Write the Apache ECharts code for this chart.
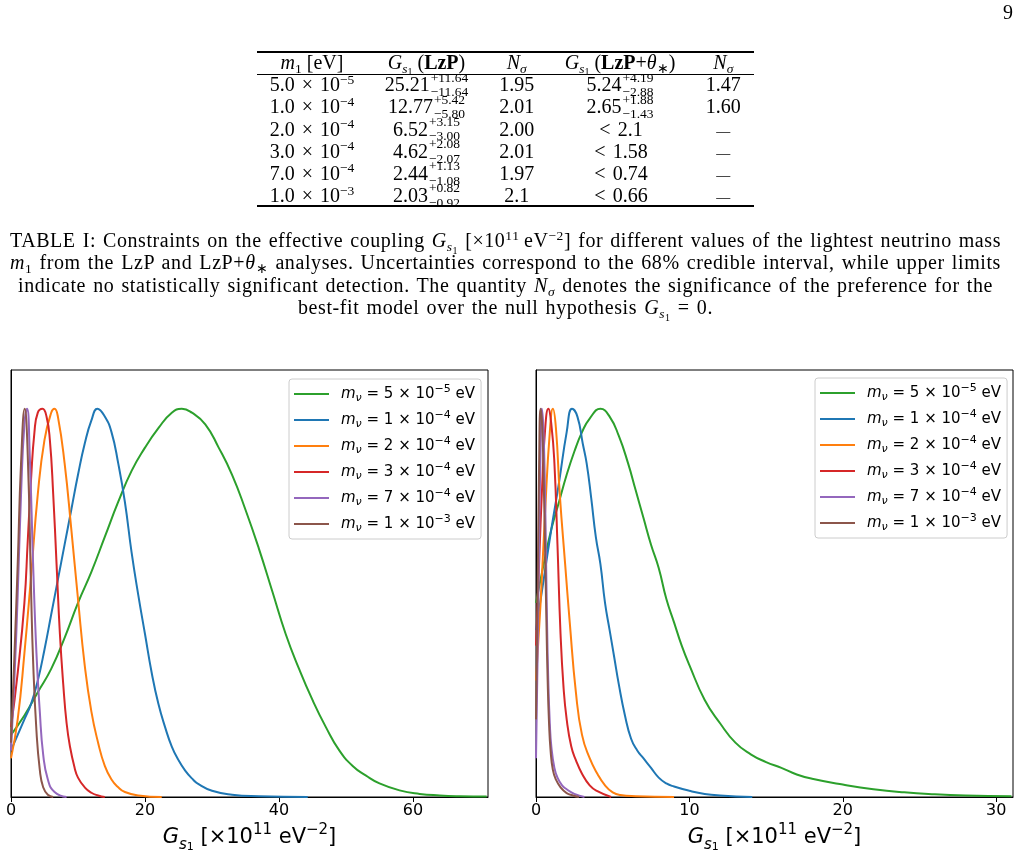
<!DOCTYPE html>
<html>
<head>
<meta charset="utf-8">
<title>Posterior of G_s1</title>
<script src="https://cdn.jsdelivr.net/npm/echarts@6.0.0/dist/echarts.min.js"></script>
<style>
html,body{margin:0;padding:0;background:#fff;}
#page{position:relative;width:1021px;height:858px;overflow:hidden;background:#fff;}
#chart{position:absolute;left:0;top:0;width:1021px;height:858px;z-index:1;}
.tx{position:absolute;font-family:"Liberation Serif","Times New Roman",serif;color:#000;white-space:nowrap;z-index:2;}
.cell{height:24px;line-height:24px;font-size:20px;transform:translateX(-50%);}
.rule{position:absolute;left:257px;width:497px;background:#000;z-index:2;}
.stk{display:inline-block;vertical-align:middle;font-size:13.5px;line-height:14.6px;margin:-10px 0 -10px 1px;position:relative;top:-1.6px;text-align:left;}
.stk span{display:block;}
.sp{font-size:13.5px;position:relative;top:-0.55em;}
.sb{font-size:13.5px;position:relative;top:0.3em;}
.sb2{font-size:10px;position:relative;top:0.25em;}
.cap{left:0;width:1011px;text-align:center;height:24px;line-height:24px;font-size:20px;}
.dash{font-size:14px;}
.op{margin:0 2px;}
</style>
</head>
<body>
<div id="page">
  <div id="chart"></div>
</div>
<script>
// ---------------- data: table ----------------
const TABLE_M1_MANT = ['5.0', '1.0', '2.0', '3.0', '7.0', '1.0'];
const TABLE_M1_EXP  = ['−5', '−4', '−4', '−4', '−4', '−3'];
const G_LZP         = ['25.21', '12.77', '6.52', '4.62', '2.44', '2.03'];
const G_LZP_UP      = ['+11.64', '+5.42', '+3.15', '+2.08', '+1.13', '+0.82'];
const G_LZP_DN      = ['−11.64', '−5.80', '−3.00', '−2.07', '−1.08', '−0.92'];
const NSIG_LZP      = ['1.95', '2.01', '2.00', '2.01', '1.97', '2.1'];
const G_THETA       = ['5.24', '2.65', '< 2.1', '< 1.58', '< 0.74', '< 0.66'];
const G_THETA_UP    = ['+4.19', '+1.88', null, null, null, null];
const G_THETA_DN    = ['−2.88', '−1.43', null, null, null, null];
const NSIG_THETA    = ['1.47', '1.60', '—', '—', '—', '—'];

// ---------------- data: legend / axes ----------------
const MASS_COEF = ['5', '1', '2', '3', '7', '1'];
const MASS_EXP  = ['−5', '−4', '−4', '−4', '−4', '−3'];
const X_TICKS_LZP = [0, 20, 40, 60];
const X_MAX_LZP = 71.2;
const X_TICKS_THETA = [0, 10, 20, 30];
const X_MAX_THETA = 31.1;
const Y_MAX = 1.1;

// ---------------- data: LzP posteriors (normalised to peak = 1) ----------------
const LZP_M5E5 = [[0,0.16],[2,0.21],[4,0.27],[6,0.33],[8,0.41],[10,0.5],[12,0.58],[14,0.67],[16,0.76],[18,0.84],[20,0.9],[22,0.95],[24,0.99],[25.5,1.0],[27,0.99],[29,0.96],[31,0.9],[33,0.83],[35,0.74],[37,0.64],[39,0.53],[41,0.42],[43,0.33],[45,0.25],[47,0.18],[49,0.12],[51,0.08],[53,0.055],[55,0.035],[58,0.017],[61,0.008],[64,0.004],[67,0.002],[71,0.001]];
const LZP_M1E4 = [[0,0.12],[1,0.16],[2,0.2],[3,0.24],[4,0.3],[5,0.38],[6,0.47],[7,0.56],[8,0.65],[9,0.74],[10,0.83],[11,0.91],[12,0.97],[12.9,1.0],[14,0.98],[15,0.94],[16,0.86],[17,0.76],[18,0.63],[19,0.52],[20,0.42],[21,0.32],[22,0.24],[23,0.18],[24,0.13],[25,0.095],[26,0.068],[27,0.048],[28,0.033],[30,0.016],[33,0.006],[37,0.002],[44.3,0]];
const LZP_M2E4 = [[0,0.1],[1,0.2],[2,0.37],[3,0.57],[4,0.78],[5,0.92],[6,0.99],[6.5,1.0],[7,0.98],[8,0.86],[9,0.69],[10,0.51],[11,0.34],[12,0.22],[13,0.14],[14,0.08],[15,0.045],[16,0.025],[17,0.013],[19,0.004],[22.5,0]];
const LZP_M3E4 = [[0,0.18],[1,0.32],[2,0.5],[2.5,0.66],[3,0.82],[3.5,0.94],[4,0.99],[4.7,1.0],[5.3,0.98],[5.8,0.92],[6.3,0.78],[6.8,0.6],[7.3,0.42],[7.8,0.29],[8.3,0.19],[8.8,0.13],[9.5,0.075],[10,0.05],[11,0.025],[12,0.011],[13,0.004],[14,0]];
const LZP_M7E4 = [[0,0.12],[0.5,0.3],[1,0.52],[1.5,0.78],[2,0.96],[2.4,1.0],[2.8,0.88],[3.3,0.6],[3.8,0.37],[4.3,0.22],[4.8,0.11],[5.5,0.045],[6.5,0.013],[8.3,0]];
const LZP_M1E3 = [[0,0.14],[0.5,0.36],[1,0.6],[1.5,0.86],[2.05,1.0],[2.5,0.88],[3,0.53],[3.3,0.35],[3.8,0.17],[4.3,0.07],[4.8,0.025],[5.5,0.006],[6.3,0]];

// ---------------- data: LzP+theta posteriors ----------------
const THETA_M5E5 = [[0,0.5],[0.5,0.6],[1,0.69],[1.5,0.76],[2,0.83],[2.5,0.89],[3,0.94],[3.5,0.975],[4.2,1.0],[4.8,0.98],[5.4,0.93],[6,0.86],[6.5,0.79],[7,0.72],[7.5,0.65],[8,0.59],[8.5,0.51],[9,0.45],[9.5,0.39],[10,0.34],[11,0.25],[12,0.19],[13,0.14],[14,0.11],[15,0.09],[16,0.075],[17,0.058],[18,0.047],[20,0.032],[22,0.02],[24,0.012],[26,0.007],[28,0.004],[31,0.002]];
const THETA_M1E4 = [[0,0.43],[0.5,0.56],[1,0.69],[1.5,0.81],[2,0.94],[2.35,1.0],[2.7,0.98],[3.05,0.91],[3.3,0.86],[3.6,0.77],[3.9,0.67],[4.2,0.6],[4.5,0.5],[4.8,0.43],[5.1,0.36],[5.4,0.29],[5.8,0.21],[6.2,0.15],[6.6,0.12],[7,0.1],[7.5,0.075],[8,0.05],[8.5,0.035],[9,0.027],[10,0.016],[11,0.008],[12,0.004],[14.1,0]];
const THETA_M2E4 = [[0,0.3],[0.3,0.5],[0.6,0.74],[0.9,0.94],[1.1,1.0],[1.3,0.95],[1.55,0.78],[1.9,0.6],[2.2,0.45],[2.6,0.27],[3,0.16],[3.5,0.1],[4,0.06],[4.5,0.03],[5,0.012],[5.5,0.005],[6.5,0.002],[9,0]];
const THETA_M3E4 = [[0,0.39],[0.2,0.6],[0.4,0.8],[0.6,0.95],[0.8,1.0],[1.0,0.96],[1.2,0.86],[1.4,0.65],[1.6,0.42],[1.8,0.28],[2.0,0.2],[2.3,0.13],[2.6,0.095],[3,0.06],[3.5,0.03],[4,0.015],[4.9,0]];
const THETA_M7E4 = [[0,0.1],[0.1,0.35],[0.2,0.65],[0.3,0.9],[0.38,1.0],[0.48,0.95],[0.58,0.8],[0.66,0.6],[0.72,0.45],[0.8,0.3],[0.9,0.19],[1.0,0.13],[1.2,0.075],[1.4,0.05],[1.7,0.03],[2,0.02],[2.5,0.008],[3.16,0]];
const THETA_M1E3 = [[0,0.2],[0.1,0.5],[0.2,0.85],[0.3,1.0],[0.4,0.96],[0.5,0.82],[0.6,0.62],[0.68,0.45],[0.76,0.3],[0.85,0.19],[0.95,0.12],[1.1,0.07],[1.3,0.045],[1.6,0.025],[2,0.01],[2.4,0.004],[2.8,0]];

// ---------------- HTML text: page number, table, caption ----------------
const page = document.getElementById('page');
function addDiv(cls, style, html) {
  const d = document.createElement('div');
  d.className = cls;
  d.setAttribute('style', style);
  d.innerHTML = html;
  page.appendChild(d);
  return d;
}
addDiv('tx', 'left:1003px;top:0px;height:24px;line-height:24px;font-size:20px;', '9');

// rules (booktabs)
addDiv('rule', 'top:51px;height:2px;', '');
addDiv('rule', 'top:73.5px;height:1px;', '');
addDiv('rule', 'top:205px;height:2px;', '');

const COL_X = [312, 426.5, 516.7, 620, 723.3];
const GS1 = '<i>G</i><span class="sb"><i>s</i><span class="sb2">1</span></span>';
const NSIG = '<i>N</i><span class="sb"><i>σ</i></span>';
const HEAD = [
  '<i>m</i><span class="sb">1</span> [eV]',
  GS1 + ' (<b>LzP</b>)',
  NSIG,
  GS1 + ' (<b>LzP</b>+<i>θ</i><span class="sb">∗</span>)',
  NSIG
];
HEAD.forEach((h, c) => addDiv('tx cell', `left:${COL_X[c]}px;top:${61.7 - 12}px;`, h));

function withErr(v, up, dn) {
  if (up === null) return v.replace('< ', '<span class="op">&lt;</span> ');
  return v + '<span class="stk"><span>' + up + '</span><span>' + dn + '</span></span>';
}
for (let r = 0; r < G_LZP.length; r++) {
  const y = 84.3 + 22.15 * r - 12;
  const cells = [
    TABLE_M1_MANT[r] + ' <span class="op">×</span> 10<span class="sp">' + TABLE_M1_EXP[r] + '</span>',
    withErr(G_LZP[r], G_LZP_UP[r], G_LZP_DN[r]),
    NSIG_LZP[r],
    withErr(G_THETA[r], G_THETA_UP[r], G_THETA_DN[r]),
    NSIG_THETA[r] === '—' ? '<span class="dash">—</span>' : NSIG_THETA[r]
  ];
  cells.forEach((h, c) => addDiv('tx cell', `left:${COL_X[c]}px;top:${y}px;`, h));
}

// caption
const CAPTION_LINES = [
  'TABLE I: Constraints on the effective coupling ' + GS1 + ' [×10<span class="sp">11</span>&#8201;eV<span class="sp">−2</span>] for different values of the lightest neutrino mass',
  '<i>m</i><span class="sb">1</span> from the LzP and LzP+<i>θ</i><span class="sb">∗</span> analyses. Uncertainties correspond to the 68% credible interval, while upper limits',
  'indicate no statistically significant detection. The quantity ' + NSIG + ' denotes the significance of the preference for the',
  'best-fit model over the null hypothesis ' + GS1 + ' = 0.'
];
const CAP_Y = [240, 262.3, 284.6, 307];
const CAP_W = [991, 991, 975, 415];
CAPTION_LINES.forEach((html, i) => {
  const d = addDiv('tx cap', `top:${CAP_Y[i] - 12}px;`, '<span class="in">' + html + '</span>');
  const inner = d.firstChild;
  const w = inner.getBoundingClientRect().width;
  const txt = inner.textContent;
  const n = (txt.match(/ /g) || []).length;
  const c = txt.length;
  const extra = CAP_W[i] - w;
  let ws = n > 0 ? Math.min(extra / n, 1.5) : 0;
  if (extra < 0) ws = 0;
  const ls = (extra - ws * n) / c;
  inner.style.wordSpacing = ws + 'px';
  inner.style.letterSpacing = ls + 'px';
});

// ---------------- ECharts ----------------
const COLORS = ['#2ca02c', '#1f77b4', '#ff7f0e', '#d62728', '#9467bd', '#8c564b'];
const NAMES = MASS_COEF.map((c, i) => 'm_nu = ' + c + 'e' + MASS_EXP[i] + ' eV');
const LZP_SETS = [LZP_M5E5, LZP_M1E4, LZP_M2E4, LZP_M3E4, LZP_M7E4, LZP_M1E3];
const THETA_SETS = [THETA_M5E5, THETA_M1E4, THETA_M2E4, THETA_M3E4, THETA_M7E4, THETA_M1E3];

const FF = 'DejaVu Sans';
const LEG_RICH = {
  m:   {fontFamily: FF, fontStyle: 'italic', fontSize: 15, lineHeight: 20, color: '#000'},
  nu:  {fontFamily: FF, fontStyle: 'italic', fontSize: 11, lineHeight: 13, verticalAlign: 'bottom', color: '#000'},
  t:   {fontFamily: FF, fontSize: 15, lineHeight: 20, color: '#000'},
  sup: {fontFamily: FF, fontSize: 11, lineHeight: 13, verticalAlign: 'top', color: '#000'}
};
function legendLabel(name) {
  const i = NAMES.indexOf(name);
  return '{m|m}{nu|ν}{t| = ' + MASS_COEF[i] + ' × 10}{sup|' + MASS_EXP[i] + '}{t| eV}';
}
const NAME_RICH = {
  g:   {fontFamily: FF, fontStyle: 'italic', fontSize: 21, lineHeight: 30, color: '#000'},
  s:   {fontFamily: FF, fontStyle: 'italic', fontSize: 15, lineHeight: 20, verticalAlign: 'bottom', color: '#000'},
  s1:  {fontFamily: FF, fontSize: 11, lineHeight: 14, verticalAlign: 'bottom', color: '#000'},
  t:   {fontFamily: FF, fontSize: 21, lineHeight: 30, color: '#000'},
  sup: {fontFamily: FF, fontSize: 15, lineHeight: 19, verticalAlign: 'top', color: '#000'}
};
const AXIS_NAME = '{g|G}{s|s}{s1|1}{t| [×10}{sup|11}{t| eV}{sup|−2}{t|]}';

function legendCfg(left, top) {
  return {
    left: left, top: top, orient: 'vertical', icon: 'rect',
    itemWidth: 35, itemHeight: 2, itemGap: 6, padding: [5, 6, 5, 5],
    backgroundColor: 'rgba(255,255,255,0.8)', borderColor: '#cccccc', borderWidth: 1, borderRadius: 3,
    selectedMode: false, data: NAMES, formatter: legendLabel,
    textStyle: {padding: [0, 0, 0, 7], rich: LEG_RICH}
  };
}
function xAxisCfg(gi, max, ticks) {
  return {
    gridIndex: gi, type: 'value', min: 0, max: max, interval: ticks[1] - ticks[0],
    splitLine: {show: false},
    axisLine: {show: true, onZero: false, lineStyle: {color: '#000', width: 1}},
    axisTick: {show: true, inside: false, length: 5, lineStyle: {color: '#000', width: 1}, customValues: ticks},
    axisLabel: {color: '#000', fontFamily: FF, fontSize: 16, margin: 6, customValues: ticks, formatter: v => String(v)},
    name: AXIS_NAME, nameLocation: 'middle', nameGap: 26, nameMoveOverlap: false,
    nameTextStyle: {rich: NAME_RICH}
  };
}
function yAxisCfg(gi) {
  return {
    gridIndex: gi, type: 'value', min: 0, max: Y_MAX,
    axisLine: {show: true, onZero: false, lineStyle: {color: '#000', width: 1}},
    axisTick: {show: false}, axisLabel: {show: false}, splitLine: {show: false}
  };
}

const series = [];
[LZP_SETS, THETA_SETS].forEach((sets, gi) => {
  sets.forEach((d, i) => {
    series.push({
      type: 'line', name: NAMES[i], xAxisIndex: gi, yAxisIndex: gi, data: d,
      symbol: 'none', showSymbol: false, smooth: 0.5,
      color: COLORS[i], lineStyle: {width: 2, color: COLORS[i]}, itemStyle: {color: COLORS[i]},
      z: 2 + i, silent: true, clip: true
    });
  });
});

const chart = echarts.init(document.getElementById('chart'), null, {renderer: 'canvas'});
chart.setOption({
  animation: false,
  backgroundColor: 'transparent',
  grid: [
    {left: 11, top: 370, width: 477, height: 427, show: true, borderColor: '#000', borderWidth: 1, containLabel: false, outerBoundsMode: 'none'},
    {left: 536, top: 370, width: 477, height: 427, show: true, borderColor: '#000', borderWidth: 1, containLabel: false, outerBoundsMode: 'none'}
  ],
  legend: [legendCfg(289, 379), legendCfg(815, 378)],
  xAxis: [xAxisCfg(0, X_MAX_LZP, X_TICKS_LZP), xAxisCfg(1, X_MAX_THETA, X_TICKS_THETA)],
  yAxis: [yAxisCfg(0), yAxisCfg(1)],
  series: series
});
</script>
</body>
</html>
